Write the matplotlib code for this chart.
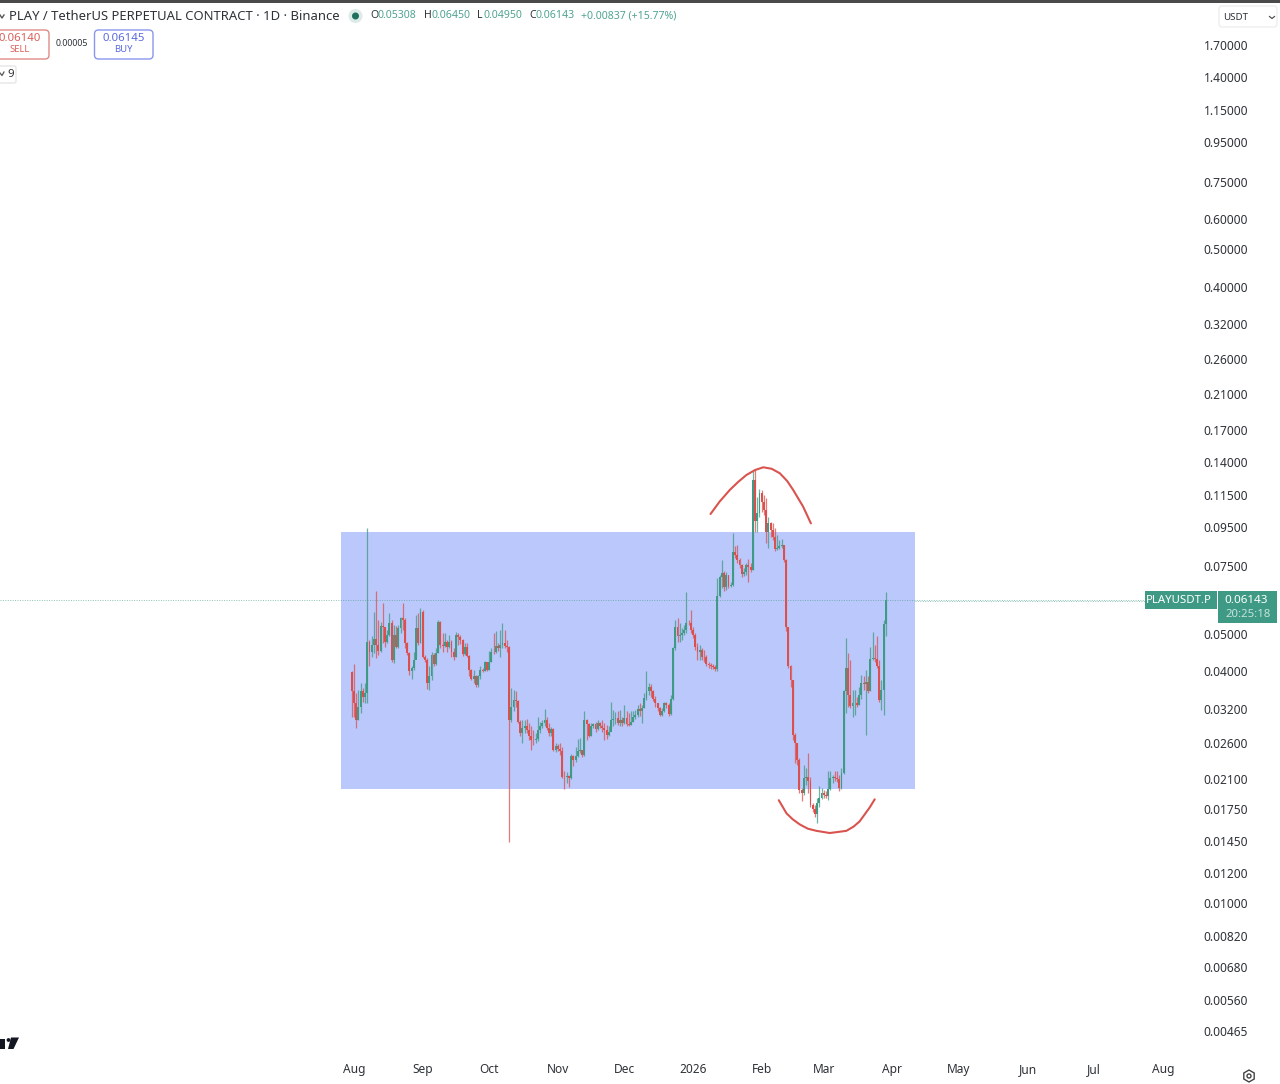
import numpy as np
import matplotlib
matplotlib.use('Agg')
import matplotlib.pyplot as plt
from matplotlib.patches import FancyBboxPatch, Rectangle, Circle, RegularPolygon, Polygon

plt.rcParams['font.family'] = ['Noto Sans', 'DejaVu Sans']

# daily candles, first one is day -1 (31 Jul), day 0 = 1 Aug 2025
first_open = 0.0398
closes = [
    .0355,.0331,.0299,.0324,.0355,.0344,.0351,.0478,.0450,.0469,
    .0485,.0469,.0453,.0525,.0521,.0478,.0497,.0535,.0428,.0497,
    .0464,.0518,.0550,.0544,.0473,.0446,.0400,.0408,.0428,.0518,
    .0473,.0572,.0437,.0428,.0373,.0388,.0441,.0418,.0446,.0539,
    .0469,.0466,.0478,.0464,.0478,.0450,.0437,.0497,.0490,.0483,
    .0443,.0464,.0439,.0404,.0382,.0390,.0369,.0388,.0404,.0402,
    .0422,.0404,.0424,.0450,.0448,.0466,.0459,.0469,.0475,.0466,
    .0462,.0299,.0324,.0337,.0335,.0296,.0276,.0285,.0288,.0281,
    .0271,.0266,.0265,.0267,.0282,.0289,.0293,.0299,.0285,.0276,
    .0283,.0250,.0256,.0251,.0248,.0213,.0212,.0214,.0211,.0241,
    .0236,.0241,.0248,.0250,.0243,.0299,.0292,.0271,.0289,.0292,
    .0283,.0293,.0289,.0285,.0281,.0274,.0279,.0299,.0300,.0302,
    .0294,.0299,.0293,.0302,.0292,.0290,.0296,.0304,.0308,.0319,
    .0316,.0321,.0341,.0355,.0365,.0355,.0340,.0331,.0321,.0309,
    .0315,.0331,.0328,.0310,.0340,.0459,.0521,.0493,.0497,.0503,
    .0513,.0535,.0534,.0513,.0497,.0464,.0450,.0455,.0437,.0435,
    .0418,.0416,.0413,.0410,.0406,.0628,.0705,.0719,.0664,.0712,
    .0667,.0671,.0819,.0803,.0779,.0757,.0717,.0727,.0757,.0749,
    .0734,.1258,.0986,.1030,.1161,.1105,.1051,.0923,.0970,.0932,
    .0892,.0830,.0835,.0847,.0852,.0779,.0523,.0412,.0380,.0274,
    .0260,.0236,.0197,.0193,.0211,.0213,.0207,.0180,.0175,.0170,
    .0182,.0188,.0193,.0191,.0190,.0198,.0211,.0213,.0211,.0210,
    .0199,.0218,.0355,.0408,.0348,.0326,.0331,.0332,.0328,.0348,
    .0373,.0371,.0375,.0355,.0430,.0433,.0431,.0412,.0338,.0358,
    .05308,.06143]
highs = [
    .0400,.0418,.0351,.0358,.0373,.0362,.0373,.0942,.0483,.0493,
    .0572,.0649,.0544,.0539,.0604,.0523,.0513,.0566,.0544,.0528,
    .0525,.0528,.0555,.0601,.0550,.0478,.0450,.0412,.0450,.0561,
    .0566,.0583,.0577,.0441,.0433,.0412,.0450,.0446,.0459,.0544,
    .0541,.0503,.0503,.0483,.0497,.0483,.0459,.0505,.0503,.0497,
    .0485,.0475,.0475,.0441,.0405,.0404,.0392,.0392,.0412,.0408,
    .0426,.0424,.0453,.0459,.0503,.0508,.0473,.0513,.0535,.0513,
    .0483,.0466,.0362,.0358,.0355,.0338,.0299,.0299,.0299,.0300,
    .0293,.0289,.0282,.0276,.0304,.0296,.0299,.0319,.0305,.0293,
    .0287,.0285,.0260,.0259,.0260,.0255,.0220,.0219,.0215,.0244,
    .0243,.0255,.0267,.0268,.0250,.0315,.0300,.0293,.0293,.0294,
    .0296,.0299,.0296,.0299,.0294,.0290,.0289,.0334,.0318,.0313,
    .0315,.0318,.0305,.0328,.0315,.0311,.0315,.0315,.0318,.0328,
    .0331,.0328,.0351,.0400,.0373,.0371,.0357,.0345,.0332,.0323,
    .0321,.0334,.0334,.0332,.0348,.0464,.0544,.0550,.0534,.0518,
    .0528,.0645,.0544,.0578,.0523,.0503,.0473,.0469,.0459,.0455,
    .0441,.0424,.0420,.0418,.0416,.0698,.0712,.0779,.0731,.0727,
    .0712,.0684,.0914,.0847,.0852,.0787,.0761,.0742,.0764,.0782,
    .0764,.1335,.1340,.1138,.1190,.1185,.1150,.1127,.1010,.0980,
    .0974,.0942,.0905,.0878,.0882,.0852,.0782,.0523,.0416,.0380,
    .0276,.0260,.0238,.0199,.0229,.0224,.0246,.0213,.0182,.0180,
    .0187,.0201,.0199,.0197,.0195,.0220,.0220,.0215,.0220,.0220,
    .0215,.0224,.0358,.0488,.0446,.0428,.0358,.0358,.0344,.0365,
    .0392,.0388,.0404,.0388,.0464,.0505,.0469,.0495,.0428,.0380,
    .0544,.0645]
lows = [
    .0305,.0305,.0285,.0299,.0311,.0334,.0331,.0331,.0412,.0437,
    .0446,.0433,.0441,.0450,.0473,.0464,.0473,.0493,.0424,.0420,
    .0459,.0459,.0503,.0513,.0459,.0441,.0392,.0382,.0404,.0437,
    .0469,.0473,.0433,.0424,.0360,.0357,.0380,.0412,.0416,.0446,
    .0459,.0450,.0464,.0450,.0459,.0437,.0428,.0435,.0469,.0471,
    .0439,.0441,.0435,.0388,.0379,.0373,.0365,.0365,.0382,.0398,
    .0400,.0400,.0404,.0424,.0444,.0446,.0453,.0437,.0459,.0459,
    .0450,.0144,.0296,.0315,.0324,.0293,.0271,.0261,.0276,.0276,
    .0266,.0250,.0258,.0261,.0263,.0276,.0285,.0288,.0281,.0272,
    .0271,.0248,.0247,.0248,.0243,.0211,.0198,.0205,.0200,.0210,
    .0227,.0233,.0239,.0245,.0239,.0241,.0266,.0270,.0271,.0285,
    .0279,.0281,.0285,.0279,.0266,.0267,.0271,.0285,.0288,.0292,
    .0290,.0289,.0289,.0292,.0288,.0288,.0290,.0296,.0300,.0305,
    .0306,.0293,.0321,.0337,.0348,.0344,.0336,.0324,.0315,.0306,
    .0306,.0313,.0321,.0306,.0308,.0337,.0455,.0478,.0478,.0483,
    .0497,.0503,.0528,.0503,.0488,.0455,.0428,.0428,.0428,.0424,
    .0412,.0408,.0406,.0406,.0402,.0402,.0626,.0658,.0649,.0651,
    .0658,.0662,.0667,.0787,.0764,.0742,.0705,.0708,.0712,.0684,
    .0727,.0734,.0923,.0923,.1010,.1040,.1020,.0861,.0835,.0892,
    .0878,.0824,.0827,.0830,.0835,.0771,.0508,.0408,.0365,.0266,
    .0231,.0229,.0193,.0184,.0191,.0203,.0193,.0178,.0172,.0167,
    .0161,.0178,.0186,.0188,.0187,.0185,.0197,.0205,.0207,.0206,
    .0195,.0198,.0217,.0311,.0324,.0321,.0305,.0308,.0324,.0328,
    .0340,.0358,.0274,.0351,.0355,.0428,.0424,.0408,.0334,.0318,
    .0308,.0495]

last_price = 0.06143

# drawn box and the two hand drawn arcs
box_days = (-5.9, 253.2)
box_prices = (0.0198, 0.0921)
arc_top_days = [160.9, 165.0, 169.6, 173.5, 177.1, 181.0, 184.7, 188.5, 192.2, 195.5, 198.2, 202.7, 206.2]
arc_top_prices = [.1026, .1105, .1185, .1245, .1296, .1335, .1357, .1345, .1309, .1250, .1185, .1072, .0970]
arc_low_days = [191.7, 195.2, 198.0, 201.2, 204.8, 208.7, 214.7, 218.5, 222.2, 225.5, 228.2, 232.7, 235.0]
arc_low_prices = [.0185, .0171, .0165, .0160, .0156, .0154, .0152, .0153, .0154, .0158, .0163, .0177, .0186]

price_ticks = [1.7, 1.4, 1.15, 0.95, 0.75, 0.6, 0.5, 0.4, 0.32, 0.26, 0.21, 0.17, 0.14, 0.115,
               0.095, 0.075, 0.05, 0.04, 0.032, 0.026, 0.021, 0.0175, 0.0145, 0.012, 0.01,
               0.0082, 0.0068, 0.0056, 0.00465]
month_days = [0, 31, 61, 92, 122, 153, 184, 212, 243, 273, 304, 334, 365]
month_labels = ['Aug', 'Sep', 'Oct', 'Nov', 'Dec', '2026', 'Feb', 'Mar', 'Apr', 'May', 'Jun', 'Jul', 'Aug']

GREEN = '#3f9a85'
RED = '#dc4f4c'
BOX = '#bbc8fb'
TXT = '#2e3238'

fig = plt.figure(figsize=(12.8, 10.84), dpi=100, facecolor='white')
ax = fig.add_axes([0, 0, 1, 1])
ax.set_yscale('log')
# 2.216 px per day, 384.7 px per decade
ax.set_xlim(-159.75, 417.9)
ax.set_ylim(0.003384, 2.225)
for s in ax.spines.values():
    s.set_visible(False)

ax.add_patch(Rectangle((box_days[0], box_prices[0]), box_days[1] - box_days[0],
                       box_prices[1] - box_prices[0], facecolor=BOX, edgecolor='none', zorder=1))

closes = np.array(closes)
highs = np.array(highs)
lows = np.array(lows)
days = np.arange(-1, len(closes) - 1)
opens = np.r_[first_open, closes[:-1]]
opens[-1] = 0.05308
up = closes >= opens
cols = np.where(up, GREEN, RED)
ax.vlines(days, lows, highs, colors=cols, linewidth=0.9, alpha=0.75, zorder=3)
ax.bar(days, np.abs(closes - opens), bottom=np.minimum(opens, closes), width=0.85,
       color=cols, linewidth=0, zorder=4)

ax.plot(arc_top_days, arc_top_prices, color='#d9534f', lw=1.5, zorder=5, solid_capstyle='round')
ax.plot(arc_low_days, arc_low_prices, color='#d9534f', lw=1.5, zorder=5, solid_capstyle='round')

ax.plot([-159.75, 357], [last_price, last_price], color=GREEN, lw=0.7, ls=(0, (1, 1.5)), alpha=0.6, zorder=2)

ax.yaxis.tick_right()
ax.set_yticks(price_ticks)
ax.set_yticklabels(['%.5f' % p for p in price_ticks])
ax.minorticks_off()
ax.tick_params(axis='y', length=0, pad=-55, labelsize=8.6, labelcolor=TXT)
ax.set_xticks(month_days)
ax.set_xticklabels(month_labels)
ax.tick_params(axis='x', length=0, pad=-15, labelsize=8.6, labelcolor=TXT)
ax.get_xticklabels()[5].set_fontweight('bold')

# ui bits around the chart, in pixels
ui = fig.add_axes([0, 0, 1, 1], facecolor='none')
ui.set_xlim(0, 1280)
ui.set_ylim(1084, 0)
ui.axis('off')

ui.add_patch(Rectangle((0, 0), 1280, 3, facecolor='#4a4a4a', edgecolor='none'))
ui.text(9, 16, 'PLAY / TetherUS PERPETUAL CONTRACT · 1D · Binance', fontsize=9.4, color=TXT, va='center')
ui.plot([0, 2, 4], [15, 18, 15], color='#555555', lw=1)
ui.add_patch(Circle((355.5, 16), 7, facecolor='#dcebe7', edgecolor='none'))
ui.add_patch(Circle((355.5, 16), 3.5, facecolor='#1f6f5f', edgecolor='none'))

for x, s in [(370, 'O'), (424, 'H'), (477, 'L'), (529, 'C')]:
    ui.text(x, 16, s, fontsize=7.6, color=TXT, va='center')
for x, s in [(377, '0.05308'), (431, '0.06450'), (483, '0.04950'), (536, '0.06143'), (581, '+0.00837 (+15.77%)')]:
    ui.text(x, 16, s, fontsize=7.6, color='#4fa392', va='center')

ui.add_patch(FancyBboxPatch((-8, 30), 57, 29, boxstyle='round,pad=0,rounding_size=4', facecolor='white', edgecolor='#e08a88', lw=1))
ui.text(20, 38.5, '0.06140', fontsize=8.2, color='#d9605c', ha='center', va='center')
ui.text(20, 50, 'SELL', fontsize=6.8, color='#d9605c', ha='center', va='center')
ui.text(72, 44, '0.00005', fontsize=6.4, color=TXT, ha='center', va='center')
ui.add_patch(FancyBboxPatch((94.5, 30), 58.5, 29, boxstyle='round,pad=0,rounding_size=4', facecolor='white', edgecolor='#8a96ee', lw=1))
ui.text(123.5, 38.5, '0.06145', fontsize=8.2, color='#5a6ae0', ha='center', va='center')
ui.text(123.5, 50, 'BUY', fontsize=6.8, color='#5a6ae0', ha='center', va='center')
ui.add_patch(FancyBboxPatch((-8, 66), 24, 17, boxstyle='round,pad=0,rounding_size=2', facecolor='white', edgecolor='#e6e6e6', lw=1))
ui.plot([0, 2, 4], [73, 75.5, 72], color='#555555', lw=0.9)
ui.text(10.5, 74.5, '9', fontsize=8.2, color=TXT, ha='center', va='center')

ui.add_patch(FancyBboxPatch((1219, 6), 58, 21, boxstyle='round,pad=0,rounding_size=3', facecolor='white', edgecolor='#eeeeee', lw=1))
ui.text(1223, 17, 'USDT', fontsize=7, color=TXT, va='center')
ui.plot([1269.5, 1272, 1274.5], [16.5, 18.5, 16.5], color='#555555', lw=0.9)

# last price labels
ui.add_patch(Rectangle((1145, 591), 72, 18, facecolor=GREEN, edgecolor='none'))
ui.add_patch(Rectangle((1218, 591), 59, 32, facecolor=GREEN, edgecolor='none'))
ui.text(1179, 600.5, 'PLAYUSDT.P', fontsize=8.2, color='white', ha='center', va='center')
ui.text(1246, 600.5, '0.06143', fontsize=8.4, color='white', ha='center', va='center')
ui.text(1248, 614.5, '20:25:18', fontsize=8.2, color='#c6e3dc', ha='center', va='center')
ui.plot([915, 1145], [600.5, 600.5], color=GREEN, lw=0.7, ls=(0, (1, 1.5)), alpha=0.6)

# tradingview mark, bottom left
ui.add_patch(Polygon([(0, 1039), (5, 1039), (5, 1049), (0, 1049)], facecolor='#131722', edgecolor='none'))
ui.add_patch(Circle((8.5, 1040), 1.9, facecolor='#131722', edgecolor='none'))
ui.add_patch(Polygon([(11, 1037.5), (19, 1037.5), (13.5, 1049), (8, 1049)], facecolor='#131722', edgecolor='none'))

# settings icon
ui.add_patch(RegularPolygon((1249, 1076), 6, radius=6, facecolor='white', edgecolor='#444444', lw=1))
ui.add_patch(Circle((1249, 1076), 2, facecolor='white', edgecolor='#444444', lw=1))

fig.savefig('out.png', dpi=100)
